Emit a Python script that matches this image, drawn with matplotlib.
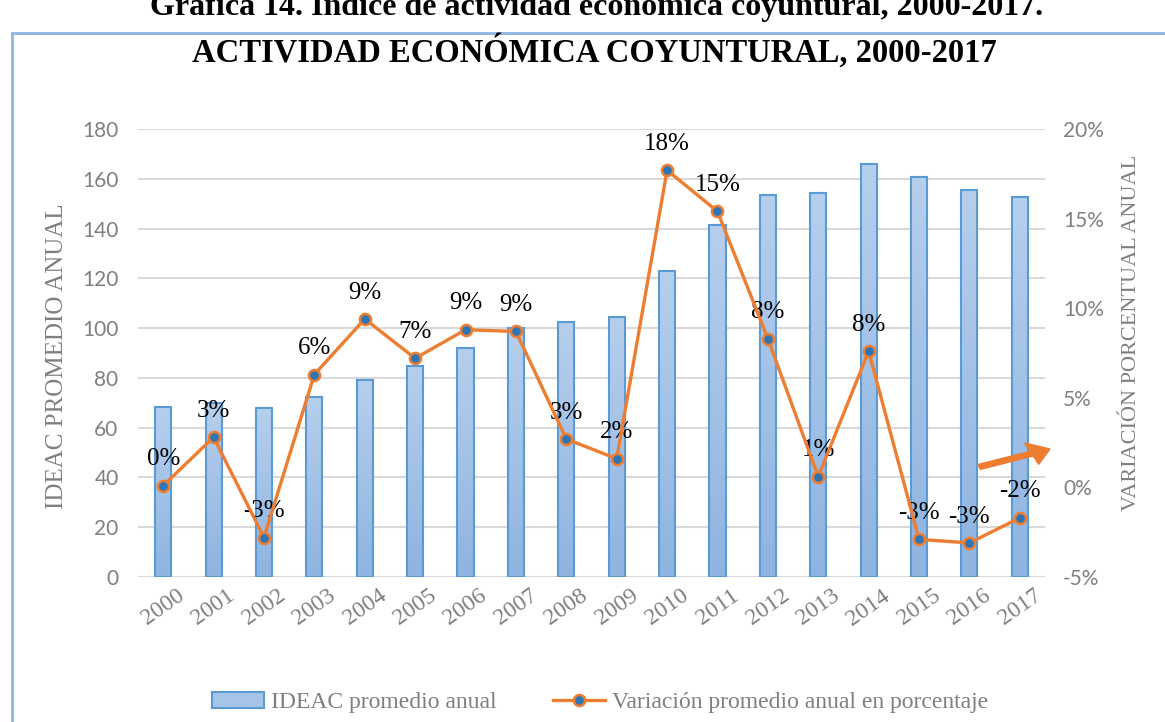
import numpy as np
import matplotlib
matplotlib.use("Agg")
import matplotlib.pyplot as plt
from matplotlib.patches import Rectangle, FancyArrow

# data
years = ['2000', '2001', '2002', '2003', '2004', '2005', '2006', '2007', '2008',
         '2009', '2010', '2011', '2012', '2013', '2014', '2015', '2016', '2017']
ideac = [68.3, 69.8, 68.0, 72.3, 79.0, 84.8, 92.0, 100.2, 102.6,
         104.4, 122.8, 141.6, 153.4, 154.2, 165.8, 160.8, 155.6, 152.8]
variacion = [0.1, 2.8, -2.8, 6.3, 9.4, 7.2, 8.8, 8.7, 2.7,
             1.6, 17.7, 15.4, 8.3, 0.6, 7.6, -2.9, -3.1, -1.7]
pct_labels = ['0%', '3%', '-3%', '6%', '9%', '7%', '9%', '9%', '3%',
              '2%', '18%', '15%', '8%', '1%', '8%', '-3%', '-3%', '-2%']

serif = 'Liberation Serif'
sans = 'Lato'
gray = '#7f7f7f'
orange = '#ed7d31'

W, H = 1165, 722
fig = plt.figure(figsize=(W / 100, H / 100), dpi=100)

# chart border
fig.patches.append(Rectangle((12 / W, -0.05), 1.0, 1.05 - 33 / H, transform=fig.transFigure,
                             fill=False, edgecolor='#8db4e2', linewidth=2))

# cut-off caption above the chart
fig.text(0.512, 1 - 15 / H, 'Gráfica 14. Índice de actividad económica coyuntural, 2000-2017.',
         ha='center', va='baseline', fontsize=23, fontweight='bold', family=serif)

fig.text(0.51, 1 - 51 / H, 'ACTIVIDAD ECONÓMICA COYUNTURAL, 2000-2017',
         ha='center', va='center', fontsize=23.5, fontweight='bold', family=serif)

ax = fig.add_axes([138 / W, 1 - 577 / H, 907 / W, 448 / H])
x = np.arange(len(years))

bars = ax.bar(x, ideac, width=0.32, color='none', edgecolor='#5b9bd5',
              linewidth=1.5, zorder=3)
grad = np.linspace(0, 1, 100).reshape(-1, 1)
cmap = matplotlib.colors.LinearSegmentedColormap.from_list('g', ['#b6cfec', '#8fb4e1'])
for b in bars:
    im = ax.imshow(grad, extent=[b.get_x(), b.get_x() + b.get_width(), 0, b.get_height()],
                   aspect='auto', cmap=cmap, origin='upper', zorder=2)
    im.set_clip_path(b)

ax.set_xlim(-0.5, 17.5)
ax.set_ylim(0, 180)
ax.set_yticks(range(0, 181, 20))
ax.grid(axis='y', color='#d9d9d9', linewidth=1.5, zorder=0)
ax.set_axisbelow(True)
for s in ax.spines.values():
    s.set_visible(False)
ax.tick_params(length=0)
ax.set_xticks(x)
ax.set_xticklabels(years, rotation=35, ha='center', va='top',
                   fontsize=17, color=gray, family=serif)
for t in ax.get_yticklabels():
    t.set_family(sans)
    t.set_fontsize(15)
    t.set_color(gray)
ax.tick_params(axis='x', pad=6)
ax.tick_params(axis='y', pad=14)

fig.text(57 / W, 1 - 356 / H, 'IDEAC PROMEDIO ANUAL', rotation=90, ha='center', va='center',
         family=serif, fontsize=18, color=gray)

ax2 = ax.twinx()
ax2.set_ylim(-5, 20)
ax2.set_yticks(range(-5, 21, 5))
ax2.set_yticklabels([f'{v}%' for v in range(-5, 21, 5)], family=sans, fontsize=15, color=gray)
ax2.tick_params(length=0, pad=13)
for s in ax2.spines.values():
    s.set_visible(False)
line, = ax2.plot(x, variacion, color=orange, linewidth=2.4, marker='o', markersize=8,
                 markerfacecolor='#2e75b6', markeredgecolor=orange, markeredgewidth=1.8,
                 zorder=5)
for xi, v, lab in zip(x, variacion, pct_labels):
    ax2.annotate(lab, (xi, v), xytext=(0, 19), textcoords='offset points',
                 ha='center', va='center', fontsize=18, family=serif, color='black')

fig.text(1132 / W, 1 - 333 / H, 'VARIACIÓN PORCENTUAL ANUAL', rotation=90, ha='center',
         va='center', family=serif, fontsize=16, color=gray)

# orange arrow pointing to the right axis
fig.patches.append(FancyArrow(979 / W, 1 - 467 / H, 71 / W, 18 / H,
                              width=0.007, head_width=0.032, head_length=0.017,
                              length_includes_head=True, color=orange,
                              transform=fig.transFigure))

# legend
leg_patch = Rectangle((0, 0), 1, 1, facecolor='#a6c4e8', edgecolor='#5b9bd5', linewidth=1.5)
leg = fig.legend([leg_patch, line], ['IDEAC promedio anual', 'Variación promedio anual en porcentaje'],
                 loc='center', bbox_to_anchor=(0.515, 0.027), ncol=2, frameon=False,
                 prop={'family': serif, 'size': 17}, columnspacing=2.4, handlelength=2.2,
                 handletextpad=0.3)
for t in leg.get_texts():
    t.set_color(gray)

fig.savefig('out.png', dpi=100)
